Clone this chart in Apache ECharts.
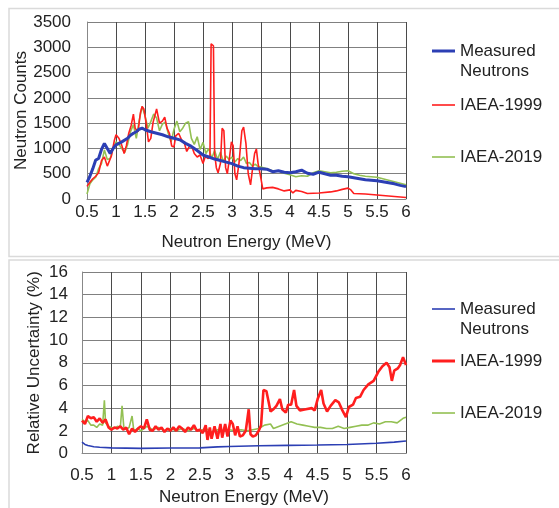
<!DOCTYPE html>
<html lang="en">
<head>
    <meta charset="UTF-8">
    <title>Neutron spectra</title>
    <script type="text/javascript" src="https://cdn.jsdelivr.net/npm/echarts@6/dist/echarts.min.js"></script>
    <style>
        html, body { margin: 0; padding: 0; background: #fff; }
        #chart { width: 559px; height: 508px; }
    </style>
</head>
<body>
<div id="chart"></div>
<script type="text/javascript">
    var xTicks = [0.5, 6, 0.5];
    var countTicks = [0, 3500, 500];
    var uncTicks = [0, 16, 2];

    // top panel: neutron counts, [energy MeV, counts]
    var measuredCounts = [[0.5,330],[0.55,450],[0.6,600],[0.65,770],[0.7,800],[0.75,980],[0.8,1100],[0.85,1000],[0.9,900],[0.95,1000],[1.0,1070],[1.05,1100],[1.1,1130],[1.2,1200],[1.25,1260],[1.3,1300],[1.35,1330],[1.4,1380],[1.45,1400],[1.5,1370],[1.55,1350],[1.6,1330],[1.7,1300],[1.8,1270],[1.9,1230],[2.0,1200],[2.1,1170],[2.2,1100],[2.3,1040],[2.4,960],[2.5,870],[2.6,830],[2.7,790],[2.8,760],[2.9,730],[3.0,700],[3.1,650],[3.2,620],[3.3,610],[3.4,600],[3.5,600],[3.6,590],[3.7,540],[3.8,560],[3.9,530],[4.0,520],[4.1,540],[4.2,570],[4.3,510],[4.4,490],[4.5,530],[4.6,500],[4.7,470],[4.8,470],[4.9,450],[5.0,440],[5.1,420],[5.2,400],[5.3,380],[5.4,370],[5.5,360],[5.6,340],[5.7,320],[5.8,300],[5.9,270],[6.0,245]];
    var iaea1999Counts = [[0.5,250],[0.55,330],[0.6,400],[0.65,450],[0.7,520],[0.75,760],[0.8,830],[0.85,650],[0.88,620],[0.92,850],[0.97,1150],[1.0,1270],[1.05,1200],[1.1,1060],[1.14,900],[1.18,1060],[1.22,1300],[1.26,1450],[1.3,1680],[1.33,1400],[1.38,1330],[1.42,1700],[1.45,1830],[1.48,1780],[1.52,1500],[1.56,1130],[1.6,1200],[1.64,1520],[1.7,1780],[1.75,1500],[1.8,1540],[1.84,1620],[1.88,1400],[1.92,1300],[1.96,1050],[2.0,1030],[2.03,1250],[2.08,1300],[2.13,1170],[2.18,1100],[2.22,940],[2.27,1050],[2.31,1030],[2.35,900],[2.4,830],[2.45,870],[2.5,700],[2.54,840],[2.59,800],[2.62,850],[2.64,3070],[2.68,3030],[2.7,900],[2.73,620],[2.76,520],[2.8,700],[2.83,1400],[2.86,1350],[2.89,620],[2.92,500],[2.96,850],[2.99,1130],[3.02,1050],[3.05,500],[3.08,380],[3.12,700],[3.17,1350],[3.2,1420],[3.24,1100],[3.28,500],[3.32,280],[3.36,650],[3.39,900],[3.42,990],[3.45,700],[3.48,690],[3.5,400],[3.53,200],[3.6,220],[3.7,230],[3.8,200],[3.9,160],[4.0,180],[4.05,120],[4.1,170],[4.2,150],[4.3,110],[4.5,120],[4.7,140],[4.8,160],[4.9,190],[5.0,215],[5.05,180],[5.1,110],[5.3,100],[5.5,80],[5.7,60],[5.9,40],[6.0,30]];
    var iaea2019Counts = [[0.5,100],[0.55,300],[0.6,380],[0.65,430],[0.7,600],[0.75,700],[0.8,970],[0.85,780],[0.9,800],[0.95,1000],[1.0,1130],[1.05,1080],[1.1,1000],[1.15,920],[1.2,1080],[1.25,1330],[1.3,1470],[1.35,1200],[1.4,1550],[1.45,1830],[1.5,1650],[1.55,1400],[1.6,1530],[1.65,1680],[1.7,1600],[1.75,1350],[1.8,1480],[1.85,1520],[1.9,1300],[1.95,1130],[2.0,1380],[2.05,1540],[2.1,1330],[2.15,1400],[2.2,1500],[2.25,1530],[2.3,1200],[2.35,1080],[2.4,1230],[2.45,980],[2.5,1120],[2.55,900],[2.6,1000],[2.65,800],[2.7,960],[2.75,780],[2.8,930],[2.85,740],[2.9,850],[2.95,780],[3.0,830],[3.05,730],[3.1,800],[3.15,760],[3.2,830],[3.25,700],[3.3,720],[3.35,650],[3.4,690],[3.45,640],[3.5,630],[3.6,600],[3.7,560],[3.8,560],[3.9,510],[4.0,480],[4.1,440],[4.2,460],[4.3,450],[4.4,520],[4.5,560],[4.6,540],[4.7,520],[4.8,530],[4.9,550],[5.0,560],[5.1,500],[5.2,470],[5.3,450],[5.4,440],[5.5,430],[5.6,400],[5.7,370],[5.8,340],[5.9,310],[6.0,280]];

    // bottom panel: relative uncertainty (%), [energy MeV, %]
    var measuredUnc = [[0.5,1.0],[0.55,0.8],[0.6,0.7],[0.7,0.6],[0.8,0.55],[1.0,0.5],[1.5,0.45],[2.0,0.48],[2.5,0.5],[2.8,0.58],[3.0,0.62],[3.5,0.68],[4.0,0.72],[4.5,0.75],[5.0,0.8],[5.5,0.9],[5.8,1.0],[6.0,1.1]];
    var iaea1999Unc = [[0.5,2.9],[0.55,2.6],[0.6,3.3],[0.65,3.1],[0.7,3.2],[0.75,2.8],[0.8,3.1],[0.85,2.7],[0.9,3.0],[0.95,2.3],[1.0,2.1],[1.05,2.3],[1.1,2.2],[1.15,2.4],[1.2,2.1],[1.25,2.3],[1.3,1.7],[1.35,2.2],[1.4,1.9],[1.45,2.2],[1.5,2.4],[1.55,2.2],[1.6,3.0],[1.65,2.1],[1.7,2.0],[1.75,2.4],[1.8,2.1],[1.85,2.3],[1.9,1.9],[1.95,2.2],[2.0,2.0],[2.05,2.3],[2.1,2.0],[2.15,2.4],[2.2,2.2],[2.25,1.9],[2.3,2.3],[2.35,2.1],[2.4,2.5],[2.45,2.0],[2.5,2.1],[2.55,1.8],[2.6,2.5],[2.63,1.2],[2.67,2.3],[2.7,1.3],[2.75,2.4],[2.8,1.3],[2.85,2.6],[2.88,1.4],[2.93,2.6],[2.97,1.5],[3.02,2.9],[3.06,2.6],[3.1,1.6],[3.14,2.4],[3.18,1.5],[3.23,1.6],[3.28,2.0],[3.33,3.9],[3.36,1.7],[3.4,1.5],[3.45,1.6],[3.5,2.0],[3.54,2.5],[3.58,5.6],[3.63,5.5],[3.67,4.5],[3.7,3.7],[3.75,3.9],[3.8,4.2],[3.86,4.8],[3.9,3.9],[3.96,3.6],[4.0,4.3],[4.05,4.3],[4.1,5.6],[4.14,4.2],[4.2,3.8],[4.3,3.9],[4.4,4.0],[4.45,3.8],[4.5,4.8],[4.56,5.6],[4.6,4.4],[4.66,3.7],[4.72,4.2],[4.8,4.7],[4.86,4.5],[4.92,3.8],[4.98,3.2],[5.03,4.1],[5.1,4.3],[5.15,4.9],[5.22,5.0],[5.28,5.6],[5.36,6.1],[5.45,6.4],[5.53,7.2],[5.6,7.7],[5.67,8.0],[5.72,7.6],[5.76,6.4],[5.8,7.3],[5.86,7.5],[5.9,7.8],[5.95,8.5],[5.98,8.6],[6.0,7.8]];
    var iaea2019Unc = [[0.5,3.0],[0.55,2.8],[0.6,2.9],[0.65,2.5],[0.7,2.5],[0.75,2.3],[0.8,2.6],[0.85,2.5],[0.88,4.7],[0.9,2.7],[0.95,2.4],[1.0,2.3],[1.05,2.2],[1.1,2.4],[1.15,2.3],[1.18,4.2],[1.21,2.3],[1.25,2.1],[1.3,2.3],[1.35,3.3],[1.38,2.0],[1.45,2.2],[1.5,2.0],[1.6,2.4],[1.7,2.1],[1.8,2.3],[1.9,2.0],[2.0,2.2],[2.1,2.0],[2.2,2.2],[2.3,2.0],[2.4,2.2],[2.5,2.0],[2.6,2.2],[2.7,1.9],[2.8,2.1],[2.9,2.0],[3.0,2.1],[3.1,2.0],[3.2,2.1],[3.3,2.0],[3.4,2.1],[3.5,2.2],[3.6,2.5],[3.7,2.6],[3.75,2.2],[3.85,2.4],[3.95,2.6],[4.05,2.8],[4.15,2.6],[4.25,2.5],[4.35,2.4],[4.45,2.3],[4.55,2.3],[4.65,2.2],[4.75,2.2],[4.85,2.4],[4.95,2.2],[5.05,2.3],[5.15,2.4],[5.25,2.5],[5.35,2.5],[5.45,2.7],[5.55,2.6],[5.65,2.8],[5.75,2.8],[5.85,2.7],[5.95,3.1],[6.0,3.2]];

    var BLUE = '#2c3fb4', RED = '#ff1e1e', GREEN = '#93c053';
    var FONT = 'Liberation Sans, Arial, sans-serif';

    function plain(v) { return String(v); }

    function xAxis(idx, labelMargin) {
        return {
            type: 'value', gridIndex: idx,
            min: xTicks[0], max: xTicks[1], interval: xTicks[2],
            name: 'Neutron Energy (MeV)', nameLocation: 'middle', nameGap: 35,
            nameMoveOverlap: false,
            nameTextStyle: { color: '#222', fontSize: 17, fontFamily: FONT },
            axisLine: { lineStyle: { color: '#888' } },
            axisTick: { show: false },
            axisLabel: { color: '#222', fontSize: 17, fontFamily: FONT, margin: labelMargin, formatter: plain },
            splitLine: { lineStyle: { color: '#4a4a4a', width: 1 } }
        };
    }
    function yAxis(idx, ticks, name, gap, labelMargin) {
        return {
            type: 'value', gridIndex: idx,
            min: ticks[0], max: ticks[1], interval: ticks[2],
            name: name, nameLocation: 'middle', nameGap: gap,
            nameMoveOverlap: false,
            nameTextStyle: { color: '#222', fontSize: 17, fontFamily: FONT },
            axisLine: { show: true, lineStyle: { color: '#888' } },
            axisTick: { show: false },
            axisLabel: { color: '#222', fontSize: 17, fontFamily: FONT, margin: labelMargin, formatter: plain },
            splitLine: { lineStyle: { color: '#808080', width: 1 } }
        };
    }
    function line(name, data, color, width, gi) {
        return {
            type: 'line', name: name, data: data,
            xAxisIndex: gi, yAxisIndex: gi,
            showSymbol: false, symbol: 'none',
            color: color, lineStyle: { color: color, width: width }
        };
    }
    function legend(name, left, top, h, label) {
        return {
            data: [name], left: left, top: top, padding: 0,
            icon: 'rect', itemWidth: 23, itemHeight: h, itemGap: 0,
            selectedMode: false,
            itemStyle: { borderWidth: 0 },
            formatter: function () { return label; },
            textStyle: { color: '#222', fontSize: 17, fontFamily: FONT, lineHeight: 20 }
        };
    }

    var mychart = echarts.init(document.getElementById('chart'));
    var option = {
        animation: false,
        backgroundColor: '#fff',
        graphic: [
            { type: 'rect', shape: { x: 9, y: 8.5, width: 560, height: 248 }, style: { fill: 'none', stroke: '#dadada', lineWidth: 1.5 }, z: -1 },
            { type: 'rect', shape: { x: 9, y: 260, width: 560, height: 260 }, style: { fill: 'none', stroke: '#dadada', lineWidth: 1.5 }, z: -1 }
        ],
        grid: [
            { left: 87, top: 22, width: 319, height: 177, containLabel: false, outerBoundsMode: 'none' },
            { left: 82, top: 272, width: 324, height: 181.5, containLabel: false, outerBoundsMode: 'none' }
        ],
        xAxis: [xAxis(0, 5), xAxis(1, 13)],
        yAxis: [
            yAxis(0, countTicks, 'Neutron Counts', 57, 16),
            yAxis(1, uncTicks, 'Relative Uncertainty (%)', 39, 14)
        ],
        legend: [
            legend('Measured Neutrons', 432, 21, 3, '\nMeasured\nNeutrons'),
            legend('IAEA-1999', 432, 95, 1.6, 'IAEA-1999'),
            legend('IAEA-2019', 432, 147, 1.6, 'IAEA-2019'),
            legend('Measured Neutrons', 432, 279, 1.6, '\nMeasured\nNeutrons'),
            legend('IAEA-1999', 432, 351, 3, 'IAEA-1999'),
            legend('IAEA-2019', 432, 403, 1.6, 'IAEA-2019')
        ],
        series: [
            line('IAEA-2019', iaea2019Counts, GREEN, 1.6, 0),
            line('IAEA-1999', iaea1999Counts, RED, 1.6, 0),
            line('Measured Neutrons', measuredCounts, BLUE, 3, 0),
            line('Measured Neutrons', measuredUnc, BLUE, 1.6, 1),
            line('IAEA-2019', iaea2019Unc, GREEN, 1.6, 1),
            line('IAEA-1999', iaea1999Unc, RED, 2.6, 1)
        ]
    };
    mychart.setOption(option);
</script>
</body>
</html>
